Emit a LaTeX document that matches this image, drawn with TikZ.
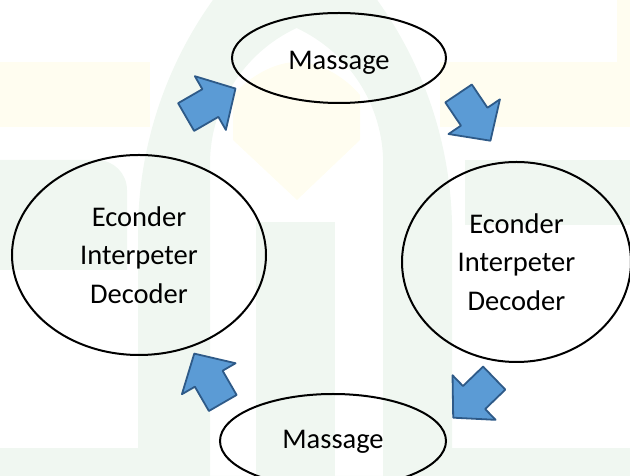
\documentclass[tikz,border=0pt]{standalone}
\usepackage{fontspec}
\setmainfont{Carlito}
\usetikzlibrary{shapes.geometric}

\definecolor{wmgreen}{RGB}{240,247,241}
\definecolor{wmyellow}{RGB}{255,253,240}
\definecolor{arrfill}{RGB}{91,155,213}
\definecolor{arrline}{RGB}{46,90,136}

\tikzset{
  bubble/.style = {draw, ellipse, line width=2pt, inner sep=0pt, align=center,
                   font=\fontsize{28.5}{38.5}\selectfont},
  blockarrow/.pic = {
    \draw[fill=arrfill, draw=arrline, line width=1.8pt, line join=round]
      (-28.5,-16) -- (-0.5,-16) -- (-0.5,-31) -- (28.5,0) -- (-0.5,31) -- (-0.5,16) -- (-28.5,16) -- cycle;
  }
}

\begin{document}
\begin{tikzpicture}[x=1pt, y=1pt]
\useasboundingbox (0,0) rectangle (630,476);

% faint logo behind the cycle
\fill[wmyellow] (0,349) rectangle (150,414);
\fill[wmyellow] (440,349) rectangle (630,414);
\fill[wmyellow] (617,349) rectangle (630,476);
\fill[wmgreen, even odd rule]
  (138,0) -- (138,243) arc[start angle=180, end angle=127.4, radius=400]
  arc[start angle=52.6, end angle=0, radius=400] -- (452,0) -- cycle
  (210,0) -- (210,312) arc[start angle=180, end angle=115, radius=150]
  arc[start angle=65, end angle=0, radius=150] -- (383,0) -- cycle;
\fill[wmyellow] (233,336) -- (233,381) .. controls (250,400) and (275,414) .. (297,414)
  .. controls (319,414) and (344,400) .. (360,381) -- (360,336) -- (297,276) -- cycle;
\fill[wmgreen] (256,0) rectangle (335,254);
\fill[wmgreen] (0,206) -- (0,316) -- (97,316) arc[start angle=90, end angle=0, radius=30] -- (127,206) -- cycle;
\fill[wmgreen] (0,0) rectangle (138,28);
\fill[wmgreen] (465,251) rectangle (630,316);
\fill[wmgreen] (452,0) rectangle (630,28);

% the four stages
\node[bubble, minimum width=214pt, minimum height=90pt, text height=28pt, text depth=5.4pt] (msgtop) at (339,418) {Massage};
\node[bubble, minimum width=254pt, minimum height=200pt] (ecleft) at (139,221) {Econder\\Interpeter\\Decoder};
\node[bubble, minimum width=229pt, minimum height=200pt] (ecright) at (516.5,214) {Econder\\Interpeter\\Decoder};
\node[bubble, minimum width=226pt, minimum height=94pt, text height=21pt, text depth=5.4pt] (msgbot) at (333,35) {Massage};

% block arrows between them
\pic[rotate=30] (arrtl) at (210.8,373.2) {blockarrow};
\pic[rotate=-56] (arrtr) at (474.5,358.9) {blockarrow};
\pic[rotate=-136] (arrbr) at (473.7,78.1) {blockarrow};
\pic[rotate=120] (arrbl) at (208.5,97.7) {blockarrow};
\end{tikzpicture}
\end{document}
